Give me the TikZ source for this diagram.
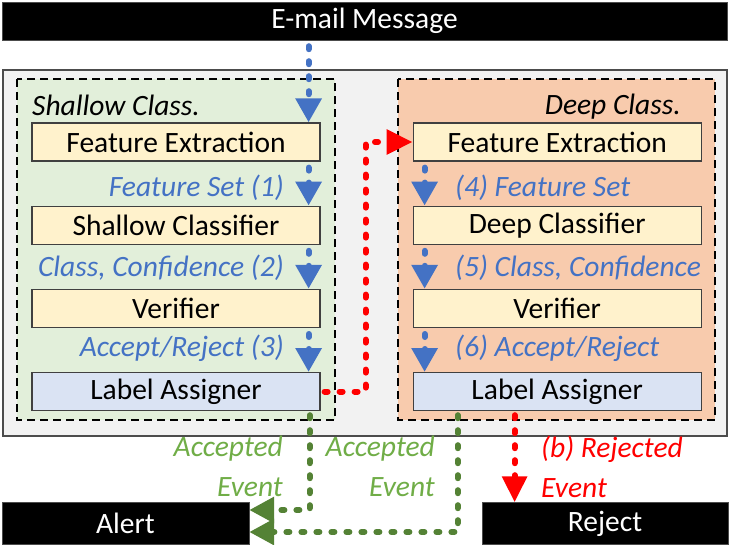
\documentclass[tikz,border=0pt]{standalone}
\usepackage{fontspec}
\setmainfont{Carlito}
\usepackage{xcolor}
\usepackage{tikz}
\usetikzlibrary{arrows.meta,positioning,calc}
\definecolor{flowblue}{RGB}{68,114,196}
\definecolor{flowgreen}{RGB}{84,130,53}
\definecolor{textgreen}{RGB}{112,173,71}
\definecolor{flowred}{RGB}{255,0,0}
\definecolor{cYellow}{RGB}{255,242,204}
\definecolor{cLabel}{RGB}{218,227,243}
\definecolor{cShallow}{RGB}{226,239,218}
\definecolor{cDeep}{RGB}{248,203,173}
\definecolor{cPanel}{RGB}{242,242,242}
\newcommand{\bigfont}{\fontsize{29.5}{40}\selectfont}
\tikzset{
  pbox/.style={draw=black!75,line width=1.2pt,fill=cYellow,inner sep=0pt,
               minimum width=288pt,minimum height=38pt,font=\bigfont},
  bar/.style={draw=black!70,fill=black,text=white,inner sep=0pt,font=\bigfont},
  panel/.style={draw=black!70,line width=1.5pt,fill=cPanel},
  stage/.style={draw=black,line width=2pt,dash pattern=on 8pt off 5pt},
  cls/.style={font=\bigfont\itshape,inner sep=0pt},
  blab/.style={font=\bigfont\itshape,text=flowblue,inner sep=0pt},
  glab/.style={font=\bigfont\itshape,text=textgreen,inner sep=0pt,align=right},
  rlab/.style={font=\bigfont\itshape,text=flowred,inner sep=0pt,align=left},
  flow/.style={line width=6pt,line cap=round,dash pattern=on 3pt off 12pt},
  barr/.style={flow,draw=flowblue,-{Triangle[width=25pt,length=24pt]},shorten <=6pt},
  garr/.style={flow,draw=flowgreen,-{Triangle[width=25pt,length=25pt]},shorten <=4pt},
  rarr/.style={flow,draw=flowred,-{Triangle[width=24pt,length=26pt]},shorten <=4pt},
}
\begin{document}
\begin{tikzpicture}[x=1pt,y=-1pt,node distance=44pt]
        \useasboundingbox (0,0) rectangle (731,544);
        \draw[panel] (3,70) rectangle (727,436);
        \draw[stage,fill=cShallow] (17,79) rectangle (335,420);
        \draw[stage,fill=cDeep] (398,79) rectangle (715,420);
        \node[bar,minimum width=725pt,minimum height=38pt] (mail) at (364.5,21) {E-mail Message};
        \node[pbox] (lfe) at (176,142) {Feature Extraction};
        \node[pbox,below=of lfe] (lsc) {Shallow Classifier};
        \node[pbox,below=of lsc] (lver) {Verifier};
        \node[pbox,fill=cLabel,below=of lver] (lla) {Label Assigner};
        \node[pbox,right=92pt of lfe] (rfe) {Feature Extraction};
        \node[pbox,below=of rfe] (rdc) {Deep Classifier};
        \node[pbox,below=of rdc] (rver) {Verifier};
        \node[pbox,fill=cLabel,below=of rver] (rla) {Label Assigner};
        \node[bar,minimum width=247pt,minimum height=42pt] (alert) at (125.5,523) {Alert};
        \node[bar,minimum width=246pt,minimum height=42pt] (reject) at (605,523.5) {Reject};
        \node[cls,anchor=base west] (shallow) at (32,115) {Shallow Class.};
        \node[cls,anchor=base east] (deep) at (681,114) {Deep Class.};
        \node[blab,anchor=base east] (lfs) at (284,196) {Feature Set (1)};
        \node[blab,anchor=base east] (lcc) at (284,276) {Class, Confidence (2)};
        \node[blab,anchor=base east] (lar) at (284,356) {Accept/Reject (3)};
        \node[blab,anchor=base west] (rfs) at (455,196) {(4) Feature Set};
        \node[blab,anchor=base west] (rcc) at (455,276) {(5) Class, Confidence};
        \node[blab,anchor=base west] (rar) at (455,356) {(6) Accept/Reject};
        \node[glab,anchor=north east] (lacc) at (283,436) {Accepted\\Event};
        \node[glab,anchor=north east] (racc) at (435,436) {Accepted\\Event};
        \node[rlab,anchor=north west] (rrej) at (541,436) {(b) Rejected\\Event};
        \draw[barr]([xshift=-12pt]lfe.north east |- mail.south)--([xshift=-12pt]lfe.north east);
        \draw[barr]([xshift=-12pt]lfe.south east)--([xshift=-12pt]lsc.north east);
        \draw[barr]([xshift=-12pt]lsc.south east)--([xshift=-12pt]lver.north east);
        \draw[barr]([xshift=-12pt]lver.south east)--([xshift=-12pt]lla.north east);
        \draw[barr]([xshift=12pt]rfe.south west)--([xshift=12pt]rdc.north west);
        \draw[barr]([xshift=12pt]rdc.south west)--([xshift=12pt]rver.north west);
        \draw[barr]([xshift=12pt]rver.south west)--([xshift=12pt]rla.north west);
        \draw[rarr](lla.east)--++(45,0)|-(rfe.west);
        \draw[garr]([xshift=-11pt]lla.south east)|-([yshift=13pt]alert.east);
        \draw[garr]([xshift=45pt]rla.south west)|-([yshift=-9pt]alert.east);
        \draw[rarr]([xshift=102pt]rla.south west)--([xshift=102pt]rla.south west |- reject.north);
      \end{tikzpicture}
\end{document}
